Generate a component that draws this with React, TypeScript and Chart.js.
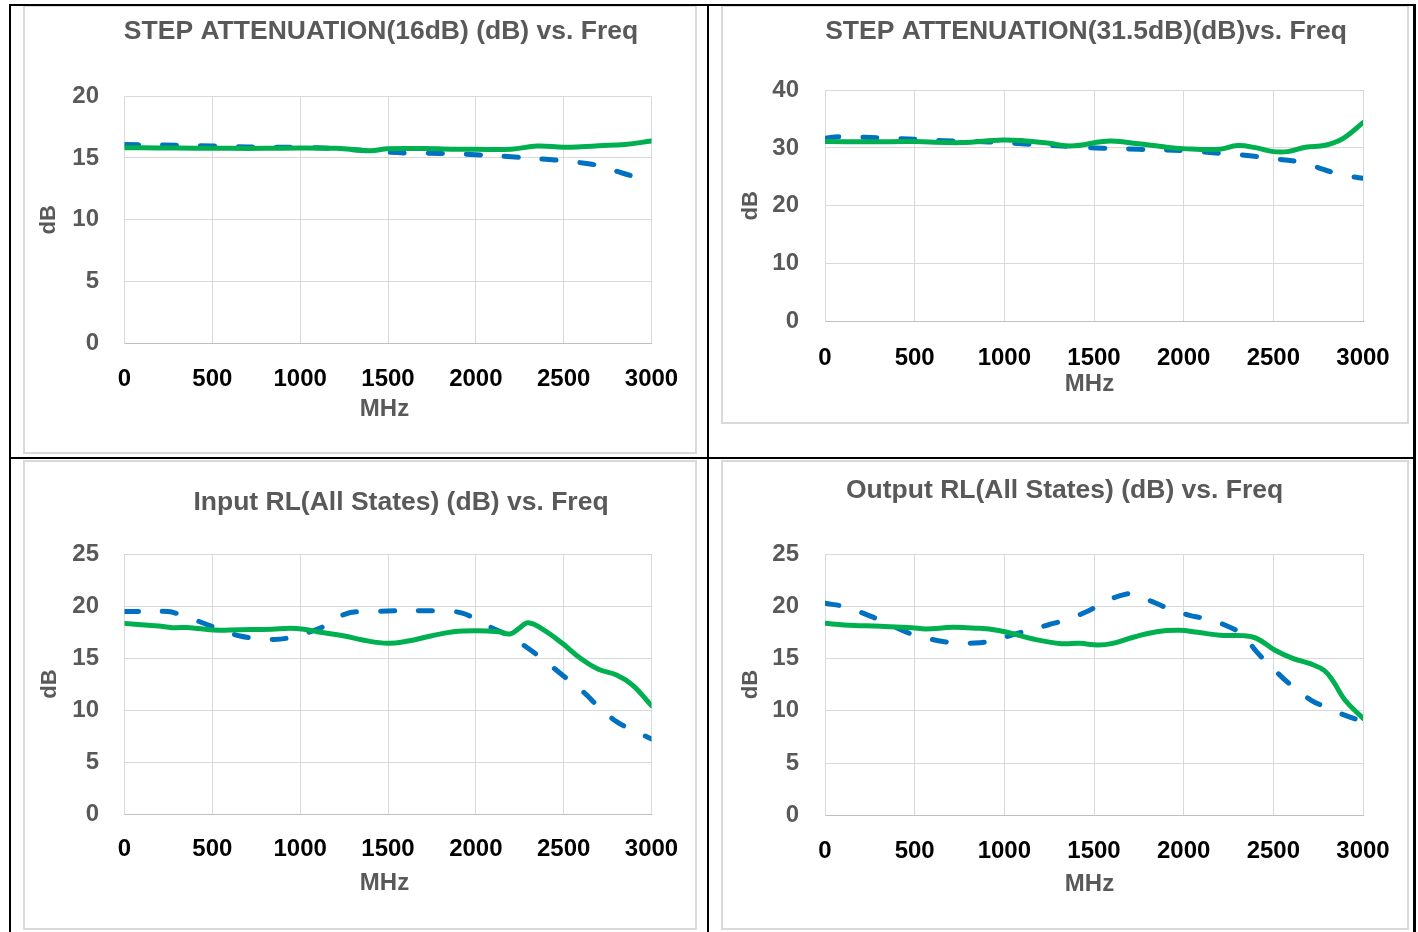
import React, { useEffect, useRef } from "react";
import { Chart, registerables } from "chart.js";

Chart.register(...registerables);

// ---------- DATA ----------
// STEP ATTENUATION (16 dB)
const att16GreenFreq = [0, 200, 400, 600, 800, 1000, 1200, 1300, 1400, 1500, 1700, 1900, 2000, 2200, 2350, 2500, 2600, 2700, 2850, 3000];
const att16GreenDb = [15.82, 15.8, 15.78, 15.77, 15.77, 15.8, 15.77, 15.68, 15.58, 15.74, 15.75, 15.7, 15.69, 15.7, 15.96, 15.86, 15.9, 15.98, 16.09, 16.36];
const att16BlueFreq = [0, 300, 500, 700, 1000, 1200, 1400, 1600, 1800, 2000, 2200, 2400, 2500, 2620, 2710, 2810, 2920, 3000];
const att16BlueDb = [16.09, 16.01, 15.96, 15.88, 15.85, 15.74, 15.55, 15.39, 15.36, 15.26, 15.09, 14.88, 14.77, 14.56, 14.34, 13.88, 13.42, 13.2];

// STEP ATTENUATION (31.5 dB)
const att31GreenFreq = [0, 250, 500, 760, 990, 1120, 1250, 1370, 1550, 1620, 1750, 1875, 2000, 2200, 2300, 2400, 2500, 2580, 2680, 2790, 2890, 3000];
const att31GreenDb = [31.08, 31.05, 31.08, 30.91, 31.37, 31.2, 30.8, 30.33, 31.1, 31.14, 30.7, 30.22, 29.87, 29.76, 30.39, 30.04, 29.35, 29.35, 30.1, 30.45, 31.65, 34.36];
const att31BlueFreq = [0, 81, 359, 500, 662, 915, 1117, 1370, 1547, 1749, 2001, 2204, 2381, 2532, 2633, 2734, 2835, 2937, 3000];
const att31BlueDb = [31.65, 31.94, 31.65, 31.48, 31.25, 31.02, 30.68, 30.22, 29.93, 29.76, 29.53, 29.06, 28.6, 28.03, 27.63, 26.76, 25.73, 25.04, 24.75];

// Input RL (All States)
const inRlGreenFreq = [0, 116, 194, 271, 374, 503, 658, 839, 942, 1020, 1097, 1252, 1356, 1498, 1614, 1743, 1872, 2001, 2130, 2195, 2246, 2298, 2388, 2492, 2595, 2698, 2801, 2892, 3000];
const inRlGreenDb = [18.33, 18.17, 18.08, 17.92, 17.92, 17.69, 17.72, 17.76, 17.85, 17.76, 17.53, 17.12, 16.73, 16.41, 16.63, 17.12, 17.53, 17.63, 17.53, 17.31, 17.85, 18.4, 17.69, 16.41, 14.97, 13.91, 13.37, 12.4, 10.42];
const inRlBlueFreq = [0, 245, 323, 503, 658, 839, 942, 1071, 1149, 1252, 1356, 1872, 1975, 2078, 2195, 2337, 2492, 2621, 2698, 2801, 2892, 3000];
const inRlBlueDb = [19.46, 19.46, 19.13, 18.01, 17.12, 16.79, 16.96, 17.6, 18.17, 19.2, 19.46, 19.46, 18.97, 18.01, 17.05, 15.45, 13.37, 11.6, 10.32, 8.88, 8.08, 7.21];

// Output RL (All States)
const outRlGreenFreq = [0, 106, 308, 485, 561, 713, 864, 915, 1016, 1168, 1319, 1420, 1521, 1597, 1724, 1850, 1976, 2077, 2204, 2330, 2406, 2507, 2608, 2709, 2785, 2835, 2899, 3000];
const outRlGreenDb = [18.37, 18.21, 18.08, 17.95, 17.83, 17.98, 17.89, 17.83, 17.51, 16.84, 16.42, 16.45, 16.29, 16.42, 17.06, 17.57, 17.7, 17.51, 17.22, 17.19, 16.93, 15.82, 15.02, 14.48, 13.84, 12.79, 11.03, 9.28];
const outRlBlueFreq = [0, 106, 283, 485, 612, 713, 864, 965, 1041, 1243, 1370, 1496, 1572, 1673, 1724, 1825, 1926, 2027, 2128, 2229, 2330, 2406, 2507, 2608, 2709, 2785, 2886, 3000];
const outRlBlueDb = [20.28, 19.96, 18.85, 17.32, 16.77, 16.52, 16.52, 16.84, 17.25, 18.21, 18.85, 19.8, 20.54, 21.14, 21.14, 20.44, 19.71, 19.16, 18.78, 18.21, 17.25, 15.66, 13.9, 12.31, 11.03, 10.4, 9.66, 8.96];

const titles = [
  "STEP ATTENUATION(16dB) (dB) vs. Freq",
  "STEP ATTENUATION(31.5dB)(dB)vs. Freq",
  "Input RL(All States) (dB) vs. Freq",
  "Output RL(All States) (dB) vs. Freq",
];
const xAxisTitle = "MHz";
const yAxisTitle = "dB";
const freqMax = 3000;
const freqStep = 500;

// ---------- LAYOUT (page pixel coordinates) ----------
type Geo = {
  fx: number; fy: number; fw: number; fh: number;
  pl: number; pr: number; pt: number; pb: number;
  tx: number; ty: number; ylr: number; dbx: number; xly: number; mhzx: number; mhzy: number;
};

const geoTL: Geo = { fx: 23, fy: 5, fw: 674, fh: 449, pl: 124.5, pr: 651.5, pt: 96, pb: 343.5, tx: 381, ty: 32, ylr: 99, dbx: 49, xly: 379, mhzx: 384.5, mhzy: 409.5 };
const geoTR: Geo = { fx: 721, fy: 5, fw: 688, fh: 419, pl: 825, pr: 1363, pt: 90, pb: 321.5, tx: 1086, ty: 32, ylr: 799, dbx: 751, xly: 358, mhzx: 1089.5, mhzy: 384.8 };
const geoBL: Geo = { fx: 23, fy: 460, fw: 674, fh: 470, pl: 124.5, pr: 651.5, pt: 554, pb: 814, tx: 401, ty: 503, ylr: 99, dbx: 50, xly: 849, mhzx: 384.5, mhzy: 883 };
const geoBR: Geo = { fx: 721, fy: 460, fw: 688, fh: 470, pl: 825, pr: 1363, pt: 554, pb: 815.3, tx: 1064.6, ty: 490.5, ylr: 799, dbx: 751, xly: 851.5, mhzx: 1089.5, mhzy: 884.8 };

const FONT = '"Liberation Sans", Arial, sans-serif';
const GREEN = "#00B050";
const BLUE = "#0070C0";
const GRID = "#d9d9d9";
const TEXT_GRAY = "#595959";

type PanelProps = {
  geo: Geo;
  title: string;
  yMax: number;
  yStep: number;
  gF: number[]; gV: number[];
  bF: number[]; bV: number[];
};

function Panel({ geo, title, yMax, yStep, gF, gV, bF, bV }: PanelProps) {
  const ref = useRef<HTMLCanvasElement>(null);
  const cx0 = geo.fx + 2;
  const cy0 = geo.fy + 2;
  const W = geo.fw - 4;
  const H = geo.fh - 4;

  useEffect(() => {
    if (!ref.current) return;
    const plotL = geo.pl - cx0;
    const plotR = geo.pr - cx0;
    const plotT = geo.pt - cy0;
    const plotB = geo.pb - cy0;
    const tickSize = 24;
    const tickLH = tickSize * 1.2;
    const mhzSize = 24;
    const dbSize = 22;

    const textPlugin = {
      id: "posTexts",
      afterDraw(chart: any) {
        const ctx = chart.ctx;
        ctx.save();
        ctx.fillStyle = TEXT_GRAY;
        ctx.textAlign = "center";
        ctx.textBaseline = "middle";
        ctx.font = `bold 26.5px ${FONT}`;
        ctx.fillText(title, geo.tx - cx0, geo.ty - cy0);
        ctx.font = `bold ${mhzSize}px ${FONT}`;
        ctx.fillText(xAxisTitle, geo.mhzx - cx0, geo.mhzy - cy0);
        ctx.restore();
      },
    };

    const chart = new Chart(ref.current, {
      type: "line",
      data: {
        datasets: [
          {
            data: gF.map((f, i) => ({ x: f, y: gV[i] })),
            borderColor: GREEN,
            borderWidth: 5,
            pointRadius: 0,
            tension: 0.4,
            fill: false,
            borderCapStyle: "round",
            borderJoinStyle: "round",
          },
          {
            data: bF.map((f, i) => ({ x: f, y: bV[i] })),
            borderColor: BLUE,
            borderWidth: 5,
            borderDash: [14, 24],
            borderCapStyle: "round",
            borderJoinStyle: "round",
            pointRadius: 0,
            tension: 0.4,
            fill: false,
          },
        ],
      },
      options: {
        animation: false,
        responsive: false,
        maintainAspectRatio: false,
        layout: { padding: { top: plotT, right: W - plotR, bottom: 0, left: 0 } },
        plugins: {
          legend: { display: false },
          tooltip: { enabled: false },
          title: { display: false },
        },
        scales: {
          x: {
            type: "linear",
            min: 0,
            max: freqMax,
            ticks: {
              stepSize: freqStep,
              color: "#000000",
              font: { family: FONT, size: tickSize, weight: "bold" },
              padding: geo.xly - geo.pb - tickLH / 2,
              maxRotation: 0,
              autoSkip: false,
              callback: (v: any) => String(v),
            },
            grid: { color: GRID, lineWidth: 1, drawTicks: false },
            border: { color: "#bfbfbf", width: 1 },
            title: { display: false },
            afterFit: (s: any) => {
              s.height = H - plotB;
              s.paddingLeft = 0;
              s.paddingRight = 0;
            },
          },
          y: {
            type: "linear",
            min: 0,
            max: yMax,
            ticks: {
              stepSize: yStep,
              color: TEXT_GRAY,
              font: { family: FONT, size: tickSize, weight: "bold" },
              padding: geo.pl - geo.ylr,
              callback: (v: any) => String(v),
            },
            grid: { color: GRID, lineWidth: 1, drawTicks: false },
            border: { color: GRID, width: 1 },
            title: {
              display: true,
              text: yAxisTitle,
              color: TEXT_GRAY,
              font: { family: FONT, size: dbSize, weight: "bold" },
              padding: { top: geo.dbx - cx0 - (dbSize * 1.2) / 2, bottom: 0 },
            },
            afterFit: (s: any) => {
              s.width = plotL;
              s.paddingTop = 0;
              s.paddingBottom = 0;
            },
          },
        },
      } as any,
      plugins: [textPlugin],
    });
    return () => chart.destroy();
  }, []);

  return (
    <div
      style={{
        position: "absolute",
        left: geo.fx,
        top: geo.fy,
        width: geo.fw,
        height: geo.fh,
        border: `2px solid ${GRID}`,
        boxSizing: "border-box",
        background: "#ffffff",
      }}
    >
      <canvas ref={ref} width={W} height={H} style={{ display: "block", width: W, height: H }} />
    </div>
  );
}

const line = (l: number, t: number, w: number, h: number) => (
  <div style={{ position: "absolute", left: l, top: t, width: w, height: h, background: "#000" }} />
);

export default function App() {
  return (
    <div style={{ position: "absolute", left: 0, top: 0, width: 1418, height: 932, overflow: "hidden", background: "#fff" }}>
      <Panel geo={geoTL} title={titles[0]} yMax={20} yStep={5} gF={att16GreenFreq} gV={att16GreenDb} bF={att16BlueFreq} bV={att16BlueDb} />
      <Panel geo={geoTR} title={titles[1]} yMax={40} yStep={10} gF={att31GreenFreq} gV={att31GreenDb} bF={att31BlueFreq} bV={att31BlueDb} />
      <Panel geo={geoBL} title={titles[2]} yMax={25} yStep={5} gF={inRlGreenFreq} gV={inRlGreenDb} bF={inRlBlueFreq} bV={inRlBlueDb} />
      <Panel geo={geoBR} title={titles[3]} yMax={25} yStep={5} gF={outRlGreenFreq} gV={outRlGreenDb} bF={outRlBlueFreq} bV={outRlBlueDb} />
      {line(9, 4, 2, 928)}
      {line(9, 4, 1406, 2)}
      {line(707, 4, 2, 928)}
      {line(9, 457, 1406, 2)}
      {line(1413, 4, 3, 928)}
    </div>
  );
}
